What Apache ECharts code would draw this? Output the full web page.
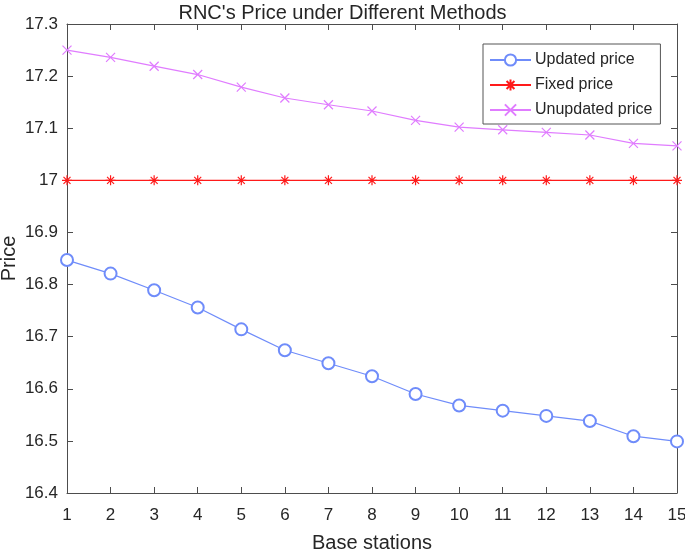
<!DOCTYPE html>
<html>
<head>
<meta charset="utf-8">
<script src="https://cdn.jsdelivr.net/npm/echarts@6/dist/echarts.min.js"></script>
<style>
html,body{margin:0;padding:0;background:#fff;}
#chart{width:685px;height:552px;}
</style>
</head>
<body>
<div id="chart"></div>
<script>
const stations = [1,2,3,4,5,6,7,8,9,10,11,12,13,14,15];
const updatedPrice = [16.847,16.821,16.789,16.756,16.714,16.674,16.649,16.624,16.590,16.568,16.558,16.548,16.538,16.509,16.499];
const fixedPrice = [17,17,17,17,17,17,17,17,17,17,17,17,17,17,17];
const unupdatedPrice = [17.250,17.236,17.219,17.203,17.179,17.158,17.145,17.133,17.115,17.102,17.097,17.092,17.087,17.071,17.066];
const seriesNames = ['Updated price','Fixed price','Unupdated price'];
const yTicks = [16.4,16.5,16.6,16.7,16.8,16.9,17,17.1,17.2,17.3];

const FONT = 'Liberation Sans, Arial, sans-serif';
const AX = '#4d4d4d';
const starPath = 'path://M5,0L5,10M0,5L10,5M1.5,1.5L8.5,8.5M8.5,1.5L1.5,8.5';
const crossPath = 'path://M0,0L10,10M10,0L0,10';

function pairs(vals){ return stations.map((s,i)=>[s, vals[i]]); }

const chart = echarts.init(document.getElementById('chart'), null, {renderer:'canvas'});
const axisCommon = {
  axisLine:{show:true, onZero:false, lineStyle:{color:AX, width:1}},
  axisTick:{show:true, inside:true, length:6, lineStyle:{color:AX, width:1}},
  splitLine:{show:false}
};
chart.setOption({
  animation:false,
  backgroundColor:'#fff',
  title:{
    text:"RNC's Price under Different Methods",
    left:'center', top:-2,
    textStyle:{fontFamily:FONT, fontSize:20, fontWeight:'normal', color:'#262626'}
  },
  grid:{left:67, right:8, top:24, bottom:59, containLabel:false, outerBoundsMode:'none'},
  legend:{
    data:seriesNames,
    orient:'vertical',
    left:483, top:44,
    itemWidth:41, itemHeight:14, itemGap:9,
    padding:[8,8,6,6],
    borderColor:'#555', borderWidth:1,
    backgroundColor:'#fff',
    textStyle:{fontFamily:FONT, fontSize:16, color:'#262626', padding:[0,0,0,-1]}
  },
  xAxis:[
    Object.assign({
      type:'value', min:1, max:15, interval:1, position:'bottom',
      name:'Base stations', nameLocation:'middle', nameGap:40, nameMoveOverlap:false,
      nameTextStyle:{fontFamily:FONT, fontSize:20, color:'#262626'},
      axisLabel:{fontFamily:FONT, fontSize:17, color:'#262626', margin:14}
    }, axisCommon),
    Object.assign({
      type:'value', min:1, max:15, interval:1, position:'top',
      axisLabel:{show:false}
    }, axisCommon)
  ],
  yAxis:[
    Object.assign({
      type:'value', min:16.4, max:17.3, interval:0.1, position:'left',
      name:'Price', nameLocation:'middle', nameGap:48, nameMoveOverlap:false,
      nameTextStyle:{fontFamily:FONT, fontSize:20, color:'#262626'},
      axisLabel:{fontFamily:FONT, fontSize:17, color:'#262626', margin:9,
        formatter:function(v){ return String(Math.round(v*10)/10); }}
    }, axisCommon),
    Object.assign({
      type:'value', min:16.4, max:17.3, interval:0.1, position:'right',
      axisLabel:{show:false}
    }, axisCommon)
  ],
  series:[
    {
      name:seriesNames[0], type:'line', data:pairs(updatedPrice), clip:false,
      symbol:'emptyCircle', symbolSize:12,
      lineStyle:{color:'#6f8cfa', width:1.2},
      itemStyle:{color:'#6f8cfa', borderColor:'#6f8cfa', borderWidth:1.2}
    },
    {
      name:seriesNames[1], type:'line', data:pairs(fixedPrice), clip:false,
      symbol:starPath, symbolSize:10,
      lineStyle:{color:'#ff1a1a', width:1.2},
      itemStyle:{color:'#ff1a1a', borderColor:'#ff1a1a', borderWidth:1.2}
    },
    {
      name:seriesNames[2], type:'line', data:pairs(unupdatedPrice), clip:false,
      symbol:crossPath, symbolSize:9,
      lineStyle:{color:'#e07cff', width:1.2},
      itemStyle:{color:'#e07cff', borderColor:'#e07cff', borderWidth:1.2}
    }
  ]
});
</script>
</body>
</html>
